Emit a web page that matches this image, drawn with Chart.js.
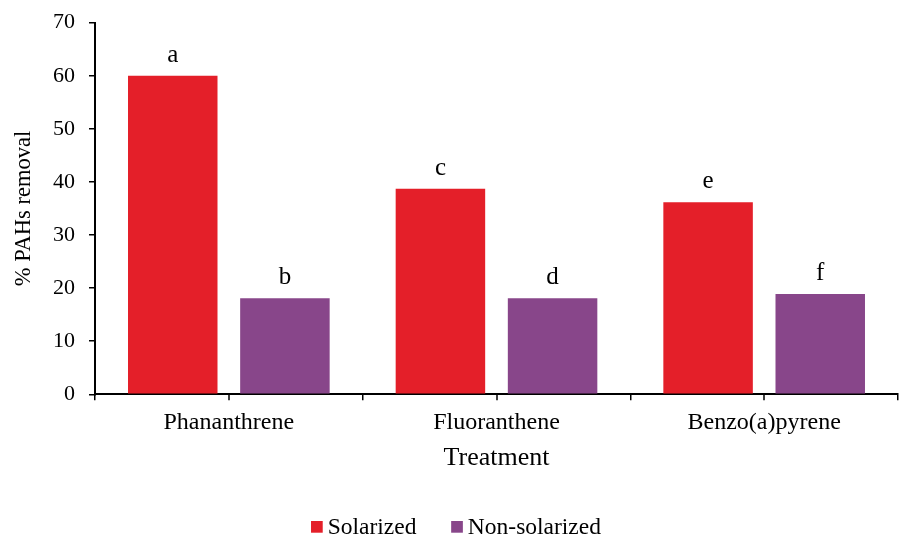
<!DOCTYPE html>
<html>
<head>
<meta charset="utf-8">
<title>PAHs removal by treatment</title>
<script src="https://cdn.jsdelivr.net/npm/chart.js@4.4.1/dist/chart.umd.min.js"></script>
<style>
  html, body { margin: 0; padding: 0; background: #ffffff; }
  canvas { display: block; }
</style>
</head>
<body>
<canvas id="chart" width="904" height="536"></canvas>
<script>
// Data
const categories = ['Phananthrene', 'Fluoranthene', 'Benzo(a)pyrene'];
const seriesNames = ['Solarized', 'Non-solarized'];
const solarized = [60, 38.7, 36.2];
const nonSolarized = [18.1, 18.1, 18.9];
const solarizedLetters = ['a', 'c', 'e'];
const nonSolarizedLetters = ['b', 'd', 'f'];

const SERIF = "'Liberation Serif', 'Times New Roman', Times, serif";
const RED = '#E41F29';
const PURPLE = '#88468A';
const letterSets = [solarizedLetters, nonSolarizedLetters];

// Short tick marks under the middle of each category
const centerTicks = {
  id: 'centerTicks',
  afterDraw(chart) {
    const xs = chart.scales.x;
    const ctx = chart.ctx;
    ctx.save();
    ctx.strokeStyle = '#000';
    ctx.lineWidth = 1.5;
    categories.forEach((_, i) => {
      const px = Math.round(xs.getPixelForValue(i));
      ctx.beginPath();
      ctx.moveTo(px, xs.top);
      ctx.lineTo(px, xs.top + 6);
      ctx.stroke();
    });
    ctx.restore();
  }
};

// Significance letters above each bar
const barLetters = {
  id: 'barLetters',
  afterDatasetsDraw(chart) {
    const ctx = chart.ctx;
    ctx.save();
    ctx.font = '25px ' + SERIF;
    ctx.fillStyle = '#000';
    ctx.textAlign = 'center';
    ctx.textBaseline = 'alphabetic';
    chart.data.datasets.forEach((ds, di) => {
      const meta = chart.getDatasetMeta(di);
      meta.data.forEach((bar, i) => {
        ctx.fillText(letterSets[di][i], bar.x, bar.y - 14);
      });
    });
    ctx.restore();
  }
};

// Legend row along the bottom edge
const bottomLegend = {
  id: 'bottomLegend',
  afterDraw(chart) {
    const ctx = chart.ctx;
    ctx.save();
    ctx.font = '23.5px ' + SERIF;
    const box = 11.7, gap = 5, spacing = 34.7;
    const items = chart.data.datasets.map(ds => ({
      text: ds.label,
      color: ds.backgroundColor,
      w: ctx.measureText(ds.label).width
    }));
    const total = items.reduce((s, it) => s + box + gap + it.w, 0) + spacing * (items.length - 1);
    let x = (chart.width - total) / 2 + 4;
    const base = chart.height - 2;
    ctx.textBaseline = 'alphabetic';
    ctx.textAlign = 'left';
    items.forEach(it => {
      ctx.fillStyle = it.color;
      ctx.fillRect(x, base - 13, box, box);
      x += box + gap;
      ctx.fillStyle = '#000';
      ctx.fillText(it.text, x, base);
      x += it.w + spacing;
    });
    ctx.restore();
  }
};

new Chart(document.getElementById('chart'), {
  type: 'bar',
  data: {
    labels: categories,
    datasets: [
      {
        label: seriesNames[0],
        data: solarized,
        backgroundColor: RED,
        borderWidth: 0,
        categoryPercentage: 0.838,
        barPercentage: 0.798
      },
      {
        label: seriesNames[1],
        data: nonSolarized,
        backgroundColor: PURPLE,
        borderWidth: 0,
        categoryPercentage: 0.838,
        barPercentage: 0.798
      }
    ]
  },
  options: {
    responsive: false,
    animation: false,
    devicePixelRatio: 1,
    layout: { padding: { left: 11, top: 22.7, right: 6, bottom: 62.5 } },
    plugins: {
      legend: { display: false },
      tooltip: { enabled: false }
    },
    scales: {
      x: {
        grid: { offset: true, drawOnChartArea: false, tickLength: 6, color: '#000', lineWidth: 1.5 },
        border: { display: true, color: '#000', width: 2 },
        ticks: { color: '#000', font: { family: SERIF, size: 24 }, padding: 8, maxRotation: 0, autoSkip: false },
        title: { display: true, text: 'Treatment', color: '#000', font: { family: SERIF, size: 26 }, padding: 0 },
        afterFit(scale) { scale.height = 79.2; }
      },
      y: {
        min: 0,
        max: 70,
        ticks: { stepSize: 10, color: '#000', font: { family: SERIF, size: 22 }, padding: 14 },
        grid: { drawOnChartArea: false, tickLength: 6, color: '#000', lineWidth: 1.5 },
        border: { display: true, color: '#000', width: 2 },
        title: { display: true, text: '% PAHs removal', color: '#000', font: { family: SERIF, size: 22.5 }, padding: 0 },
        afterFit(scale) {
          scale.width = 84;
          scale.paddingTop = 0;
          scale.paddingBottom = 0;
        }
      }
    }
  },
  plugins: [centerTicks, barLetters, bottomLegend]
});
</script>
</body>
</html>
